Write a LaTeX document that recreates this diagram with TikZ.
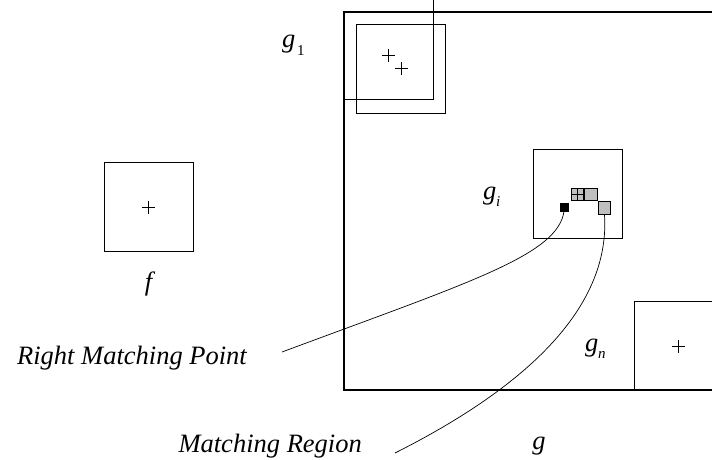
\documentclass[tikz,border=0pt]{standalone}
\usepackage{fontspec}
\setmainfont{Liberation Serif}
\usetikzlibrary{positioning}

\tikzset{
  plus/.pic={\draw (-6.5,0) -- (6.5,0) (0,-6.5) -- (0,6.5);}
}

\begin{document}
\begin{tikzpicture}[
  x=1pt, y=-1pt,
  every node/.style={font=\fontsize{26.5}{29}\selectfont\itshape, inner sep=0pt},
  sub/.style={font=\fontsize{15}{15}\selectfont\itshape},
  win/.style={draw, line width=0.8pt, minimum size=89pt, inner sep=0pt},
  cell/.style={draw, line width=0.8pt, fill=gray!50, minimum size=12.7pt, inner sep=0pt},
  link/.style={line width=0.7pt}
]
\useasboundingbox (0,0) rectangle (712,459);

% search image g
\draw[line width=2.5pt] (740,12) -- (344,12) -- (344,390) -- (740,390);
\node[anchor=base] (glab) at (539,449) {g};

% template f
\node[win] (f) at (148.5,207) {};
\pic at (f.center) {plus};
\node[anchor=base] (flab) at (148.5,290) {f};

% first window, shifted
\draw[line width=0.8pt] (344,99) -| (433,-2);
\pic at (388.5,55) {plus};
\node[win] (g1) at (401,68.5) {};
\pic at (g1.center) {plus};
\node[anchor=base west] (g1lab) at (282,47) {g};
\node[sub, anchor=base west] (g1sub) at (297,55) {\upshape 1};

% window g_i with matching region
\node[win] (gi) at (577.5,194) {};
\node[anchor=base west] (gilab) at (483,199) {g};
\node[sub, anchor=base west] (gisub) at (496,206) {i};
\node[cell] (c1) at (577.5,194.5) {};
\draw[line width=0.6pt] (c1.north) -- (c1.south) (c1.west) -- (c1.east);
\node[cell, right=0pt of c1] (c2) {};
\node[cell, anchor=north west] (c3) at (c2.south east) {};
\node[draw, fill=black, minimum size=8pt, inner sep=0pt] (rmp) at (564,207) {};

% last window g_n
\node[win] (gn) at (678.5,346) {};
\pic at (gn.center) {plus};
\node[anchor=base west] (gnlab) at (585,351) {g};
\node[sub, anchor=base west] (gnsub) at (598,358) {n};

% labels
\node[anchor=base east] (rmplab) at (247,364) {Right Matching Point};
\node[anchor=base east] (mrlab) at (362,452) {Matching Region};
\coordinate (rmpend) at (282,352);
\coordinate (mrend) at (395,453);

\draw[link] (rmp.south) .. controls (558,255) and (470,282) .. (rmpend);
\draw[link] (c3.south) .. controls (610,300) and (540,380) .. (mrend);
\end{tikzpicture}
\end{document}
